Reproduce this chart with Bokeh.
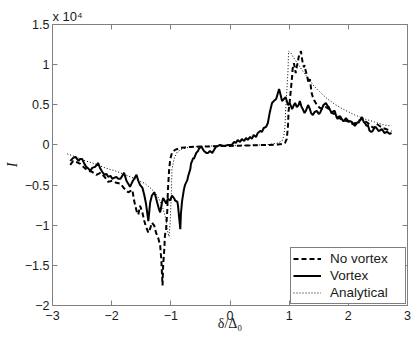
from bokeh.plotting import figure
from bokeh.models import (Legend, LegendItem, LinearAxis, FixedTicker,
                          Range1d, ColumnDataSource)
from bokeh.embed import file_html
from bokeh.resources import INLINE

# ---------------- data ----------------
vortex_x = [-2.70, -2.65, -2.61, -2.56, -2.53, -2.50, -2.46, -2.43, -2.39, -2.36,
            -2.33, -2.28, -2.24, -2.23, -2.19, -2.16, -2.12, -2.09, -2.06, -2.02,
            -1.99, -1.96, -1.92, -1.89, -1.85, -1.82, -1.79, -1.75, -1.72, -1.69,
            -1.65, -1.62, -1.58, -1.55, -1.52, -1.48, -1.45, -1.42, -1.38, -1.35,
            -1.32, -1.28, -1.25, -1.23, -1.20, -1.18, -1.15, -1.13, -1.10, -1.08,
            -1.05, -1.01, -0.98, -0.94, -0.93, -0.89, -0.88, -0.86, -0.84, -0.83,
            -0.81, -0.78, -0.76, -0.72, -0.71, -0.67, -0.66, -0.64, -0.62, -0.61,
            -0.57, -0.54, -0.51, -0.47, -0.44, -0.40, -0.37, -0.34, -0.30, -0.27,
            -0.24, -0.20, -0.17, -0.10, -0.03, 0.03, 0.07, 0.10, 0.13, 0.17,
            0.20, 0.24, 0.27, 0.30, 0.34, 0.37, 0.40, 0.44, 0.47, 0.51,
            0.54, 0.57, 0.61, 0.64, 0.67, 0.71, 0.74, 0.78, 0.81, 0.83,
            0.86, 0.88, 0.91, 0.94, 0.98, 1.01, 1.05, 1.08, 1.10, 1.13,
            1.16, 1.18, 1.21, 1.23, 1.26, 1.28, 1.32, 1.35, 1.37, 1.40,
            1.43, 1.47, 1.50, 1.52, 1.55, 1.58, 1.62, 1.65, 1.67, 1.70,
            1.72, 1.75, 1.77, 1.80, 1.82, 1.85, 1.87, 1.91, 1.92, 1.96,
            1.97, 2.01, 2.02, 2.06, 2.07, 2.11, 2.12, 2.16, 2.17, 2.21,
            2.23, 2.26, 2.28, 2.31, 2.33, 2.36, 2.39, 2.41, 2.44, 2.46,
            2.50, 2.51, 2.55, 2.56, 2.60, 2.61, 2.65, 2.66, 2.70, 2.73]
vortex_y = [-1990, -1615, -1490, -1990, -1740, -1740, -2360, -2730, -2980, -3230,
            -2860, -2730, -2360, -2240, -2980, -3350, -3730, -3600, -3970, -3850,
            -4220, -4100, -3970, -4220, -4220, -3850, -3480, -4470, -4840, -5220,
            -4600, -4220, -3730, -4470, -4970, -5340, -6200, -7300, -9500, -7200,
            -6300, -5900, -6600, -7200, -8000, -8400, -7200, -6600, -7000, -7300,
            -6700, -6900, -6300, -6700, -6900, -7100, -7500, -9000, -10500, -8600,
            -7000, -5600, -4970, -4350, -3970, -2980, -2360, -1990, -1615, -1740,
            -990, -750, -250, -370, -750, -990, -990, -750, -990, -620,
            -250, -120, 0, -120, 0, 0, 370, 250, 620, 370,
            750, 500, 870, 620, 990, 750, 1240, 990, 1490, 1740,
            1615, 2110, 2240, 2730, 3970, 5220, 5460, 5710, 6460, 6960,
            6090, 5460, 5710, 5960, 4970, 5220, 4470, 4970, 5220, 4720,
            4970, 5460, 4720, 4470, 3970, 4220, 4970, 4470, 3970, 3730,
            4100, 4220, 3850, 3970, 4470, 4970, 5220, 4840, 4720, 4220,
            3970, 4220, 4220, 3480, 3230, 3600, 3480, 2980, 2980, 3350,
            3230, 2860, 2980, 2860, 2730, 2360, 2480, 2860, 2730, 3230,
            3480, 2860, 2730, 2360, 2480, 1740, 1615, 1740, 2110, 2240,
            1860, 1740, 1860, 1990, 1615, 1490, 1615, 1615, 1370, 1490]

novortex_x = [-2.70, -2.65, -2.60, -2.53, -2.46, -2.39, -2.33, -2.26, -2.19, -2.12,
              -2.06, -1.99, -1.92, -1.85, -1.79, -1.72, -1.65, -1.62, -1.58, -1.55,
              -1.52, -1.48, -1.45, -1.42, -1.38, -1.35, -1.32, -1.28, -1.25, -1.21,
              -1.18, -1.16, -1.15, -1.14, -1.13, -1.11, -1.10, -1.08, -1.06, -1.05,
              -1.03, -1.01, -0.98, -0.93, -0.84, -0.76, -0.67, -0.51, -0.34, -0.17,
              0.00, 0.17, 0.34, 0.51, 0.67, 0.81, 0.89, 0.93, 0.96, 0.98,
              0.99, 1.01, 1.03, 1.05, 1.06, 1.08, 1.10, 1.11, 1.13, 1.15,
              1.16, 1.18, 1.20, 1.21, 1.23, 1.25, 1.26, 1.28, 1.30, 1.32,
              1.33, 1.35, 1.38, 1.40, 1.43, 1.47, 1.52, 1.57, 1.62, 1.67,
              1.72, 1.77, 1.82, 1.87, 1.92, 1.97, 2.02, 2.07, 2.12, 2.17,
              2.23, 2.28, 2.33, 2.38, 2.43, 2.48, 2.53, 2.58, 2.63, 2.68, 2.73]
novortex_y = [-2480, -1990, -2110, -2360, -2860, -3230, -3350, -3730, -3480, -3970,
              -4600, -4470, -4720, -4840, -5400, -5900, -5600, -6960, -8200, -8690,
              -7580, -8450, -9440, -10180, -10930, -10430, -9690, -10060, -10930, -11670,
              -12540, -14410, -16000, -17510, -15030, -12920, -11300, -10430, -8200, -5710,
              -3230, -1740, -990, -620, -370, -310, -250, -210, -190, -150,
              -120, -90, -60, -25, 0, 60, 120, 250, 750, 2360,
              4220, 5460, 6960, 8570, 9560, 10180, 9440, 8940, 9810, 10430,
              10930, 11430, 11670, 11050, 10180, 9690, 9940, 9190, 8690, 7950,
              7700, 8200, 6460, 5960, 5460, 4970, 4600, 4470, 4720, 4470,
              3970, 3850, 3480, 3230, 3100, 2980, 2860, 2610, 2730, 2980,
              3230, 2980, 2730, 2360, 2110, 2610, 2360, 2110, 1990, 1860, 1740]

analytical_x = [-2.75, -2.61, -2.44, -2.28, -2.11, -1.94, -1.77, -1.60, -1.43, -1.35,
                -1.26, -1.20, -1.15, -1.11, -1.08, -1.05, -1.03, -1.01, -0.99, -0.98,
                -0.94, -0.89, -0.81, -0.67, -0.51, -0.25, 0.00, 0.25, 0.51, 0.67,
                0.81, 0.88, 0.91, 0.93, 0.94, 0.96, 0.98, 0.99, 1.03, 1.08,
                1.15, 1.23, 1.32, 1.42, 1.52, 1.65, 1.79, 1.94, 2.11, 2.28,
                2.44, 2.61, 2.73]
analytical_y = [-1120, -1490, -1990, -2360, -2860, -3230, -3730, -4220, -4840, -5340,
                -5960, -6710, -7580, -8450, -9440, -10930, -11430, -9440, -5710, -2980,
                -1615, -870, -500, -250, -190, -120, -100, -60, 0, 60,
                250, 500, 1120, 2360, 4220, 6710, 9190, 11670, 11430, 10810,
                10060, 9190, 8320, 7330, 6580, 5710, 4970, 4350, 3730, 3230,
                2860, 2480, 2360]

x_ticks = [-3, -2, -1, 0, 1, 2, 3]
x_tick_labels = ["\u22123", "\u22122", "\u22121", "0", "1", "2", "3"]
y_ticks = [-20000, -15000, -10000, -5000, 0, 5000, 10000, 15000]
y_tick_labels = ["\u22122", "\u22121.5", "\u22121", "\u22120.5", "0", "0.5", "1", "1.5"]

series_names = ["No vortex", "Vortex", "Analytical"]
x_label = "\u03b4/\u0394\u2080"
y_label = "I"
multiplier = "x 10\u2074"

# ---------------- figure ----------------
AX = "#808080"
TXT = "#1a1a1a"
SANS = "'Liberation Sans', 'DejaVu Sans'"
SERIF = "'Liberation Serif', 'DejaVu Serif'"

p = figure(width=413, height=340, x_range=Range1d(-3, 3), y_range=Range1d(-20000, 15000),
           output_backend="svg", toolbar_location=None,
           min_border_left=52, min_border_right=6, min_border_top=24, min_border_bottom=35)
p.xgrid.grid_line_color = None
p.ygrid.grid_line_color = None
p.outline_line_color = AX
p.background_fill_color = "white"
p.border_fill_color = "white"

p.title.text = multiplier
p.title.align = "left"
p.title.text_font = SANS
p.title.text_font_size = "13px"
p.title.text_font_style = "normal"
p.title.text_color = TXT
p.title.standoff = 2
p.title.offset = 0

p.add_layout(LinearAxis(), "above")
p.add_layout(LinearAxis(), "right")

for ax in p.xaxis:
    ax.ticker = FixedTicker(ticks=x_ticks)
    ax.major_label_overrides = {t: l for t, l in zip(x_ticks, x_tick_labels)}
for ax in p.yaxis:
    ax.ticker = FixedTicker(ticks=y_ticks)
    ax.major_label_overrides = {t: l for t, l in zip(y_ticks, y_tick_labels)}

for ax in p.axis:
    ax.axis_line_color = AX
    ax.major_tick_line_color = AX
    ax.minor_tick_line_color = None
    ax.major_tick_in = 5
    ax.major_tick_out = 0
    ax.major_label_text_font = SANS
    ax.major_label_text_font_size = "12.5px"
    ax.major_label_text_color = TXT

bx = p.below[0]
bx.major_label_standoff = 5
bx.axis_label = x_label
bx.axis_label_text_font = SERIF
bx.axis_label_text_font_style = "normal"
bx.axis_label_text_font_size = "14px"
bx.axis_label_text_color = TXT
bx.axis_label_standoff = -7

ly = p.left[0]
ly.major_label_standoff = 3
ly.axis_label = y_label
ly.axis_label_text_font = SERIF
ly.axis_label_text_font_style = "italic"
ly.axis_label_text_font_size = "14px"
ly.axis_label_text_color = TXT
ly.axis_label_standoff = 2

for ax in (p.above[0], p.right[0]):
    ax.major_label_text_font_size = "0px"
    ax.major_label_standoff = 0

src_nv = ColumnDataSource(dict(x=novortex_x, y=novortex_y))
src_v = ColumnDataSource(dict(x=vortex_x, y=vortex_y))
src_a = ColumnDataSource(dict(x=analytical_x, y=analytical_y))

r_a = p.line("x", "y", source=src_a, line_color="black", line_width=1, line_dash="1 2")
r_nv = p.line("x", "y", source=src_nv, line_color="black", line_width=2, line_dash="5 3")
r_v = p.line("x", "y", source=src_v, line_color="black", line_width=2)

legend = Legend(items=[LegendItem(label=series_names[0], renderers=[r_nv]),
                       LegendItem(label=series_names[1], renderers=[r_v]),
                       LegendItem(label=series_names[2], renderers=[r_a])],
                location="bottom_right", margin=1, padding=2, spacing=0,
                glyph_width=28, glyph_height=17, label_height=17, label_width=73,
                label_standoff=9, label_text_font=SANS, label_text_font_size="13.5px",
                label_text_color=TXT, border_line_color="black", border_line_width=1,
                background_fill_color="white", background_fill_alpha=1.0)
p.add_layout(legend)

open("out.html", "w").write(file_html(p, INLINE))
